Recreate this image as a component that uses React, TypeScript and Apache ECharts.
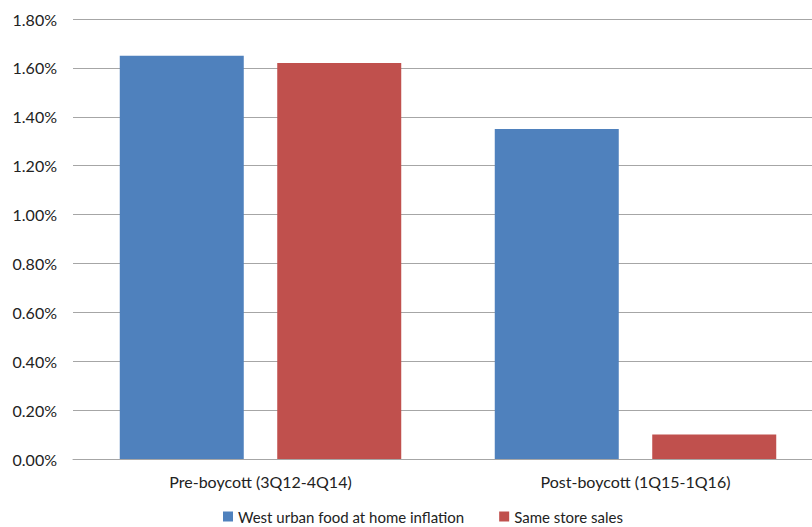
import React, { useEffect, useRef } from "react";
import * as echarts from "echarts";

const categories = ["Pre-boycott (3Q12-4Q14)", "Post-boycott (1Q15-1Q16)"];
const westUrbanFoodInflation = [1.65, 1.35];
const sameStoreSales = [1.62, 0.1];
const seriesNames = ["West urban food at home inflation", "Same store sales"];

const FONT = "Lato, 'Open Sans', sans-serif";

export default function App() {
  const ref = useRef<HTMLDivElement>(null);

  useEffect(() => {
    if (!ref.current) return;
    const chart = echarts.init(ref.current, null, { renderer: "svg" });
    chart.setOption({
      animation: false,
      textStyle: { fontFamily: FONT },
      grid: { left: 73, top: 19, width: 750, bottom: 68, containLabel: false },
      legend: {
        bottom: 3,
        left: 223,
        padding: 0,
        itemWidth: 10,
        itemHeight: 10,
        itemGap: 35,
        icon: "rect",
        textStyle: { fontFamily: FONT, fontSize: 15, color: "#222" },
        data: seriesNames,
      },
      xAxis: {
        type: "category",
        data: categories,
        axisLine: { show: true, lineStyle: { color: "#a6a6a6", width: 1 } },
        axisTick: { show: false },
        axisLabel: { fontFamily: FONT, fontSize: 16, color: "#222", margin: 14 },
      },
      yAxis: {
        type: "value",
        min: 0,
        max: 1.8,
        interval: 0.2,
        axisLine: { show: false },
        axisTick: { show: false },
        splitLine: { lineStyle: { color: "#a6a6a6", width: 1 } },
        axisLabel: {
          fontFamily: FONT,
          fontSize: 16,
          color: "#222",
          margin: 16,
          formatter: (v: number) => v.toFixed(2) + "%",
        },
      },
      series: [
        {
          name: seriesNames[0],
          type: "bar",
          data: westUrbanFoodInflation,
          barWidth: 124,
          barGap: "27%",
          itemStyle: { color: "#4f81bd" },
        },
        {
          name: seriesNames[1],
          type: "bar",
          data: sameStoreSales,
          barWidth: 124,
          itemStyle: { color: "#c0504d" },
        },
      ],
    });
    return () => chart.dispose();
  }, []);

  return (
    <div
      style={{
        position: "absolute",
        left: 0,
        top: 0,
        width: 812,
        height: 527,
        overflow: "hidden",
        background: "#fff",
      }}
    >
      <div ref={ref} style={{ width: 830, height: 527 }} />
    </div>
  );
}
